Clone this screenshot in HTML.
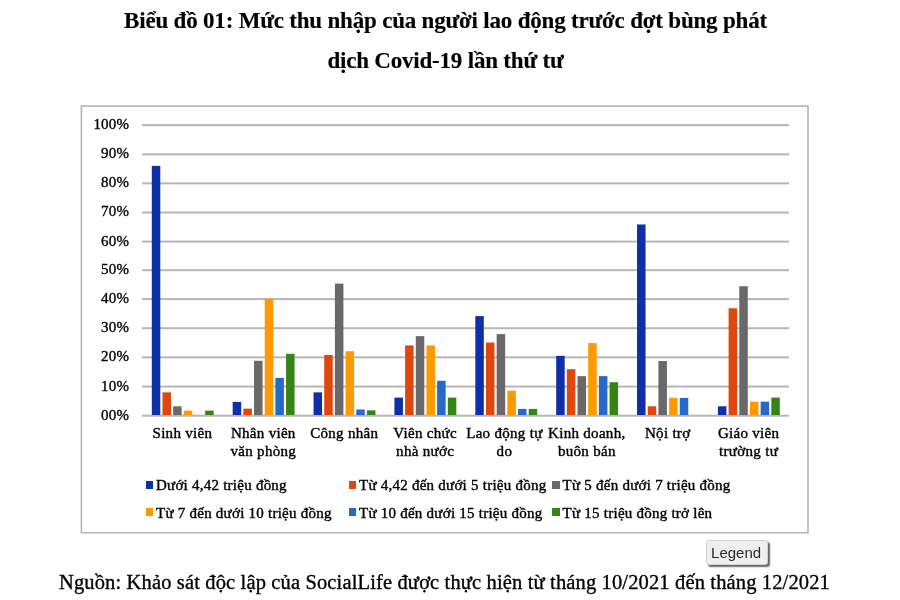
<!DOCTYPE html>
<html><head><meta charset="utf-8">
<style>
html,body{margin:0;padding:0;background:#fff;width:900px;height:600px;overflow:hidden;position:relative}
body{font-family:"Liberation Serif",serif;color:#000}
#wrap{position:absolute;left:0;top:0;width:900px;height:600px;transform:translateZ(0)}
.t{position:absolute;left:0;width:891px;text-align:center;font-weight:bold;font-size:23px;letter-spacing:-0.2px;white-space:nowrap;line-height:26px;-webkit-text-stroke:0.15px #000}
svg{position:absolute;left:0;top:0}
.yl{position:absolute;left:60px;width:69.2px;text-align:right;font-size:15px;letter-spacing:0.2px;line-height:18px;-webkit-text-stroke:0.35px #000}
.cl{position:absolute;top:423.5px;width:100px;text-align:center;font-size:15px;letter-spacing:0.3px;line-height:18px;-webkit-text-stroke:0.4px #000}
.lsq{position:absolute;width:7.5px;height:7.5px}
.lt{position:absolute;font-size:15px;letter-spacing:0.24px;-webkit-text-stroke:0.4px #000;line-height:18px;white-space:nowrap}
.src{position:absolute;left:59px;top:569.5px;font-size:20.5px;letter-spacing:0.14px;line-height:24px;-webkit-text-stroke:0.35px #000;white-space:nowrap}
.btn{position:absolute;left:706.25px;top:539.5px;width:59.25px;height:23px;background:#efefef;border:1px solid #d2d2d2;border-radius:3px;box-shadow:2px 2px 1.5px rgba(0,0,0,.6);font-family:"Liberation Sans",sans-serif;font-size:15px;line-height:23px;text-align:center;color:#2a2a2a;text-indent:-1.5px}
</style></head><body><div id="wrap">
<div class="t" style="top:8px">Biểu đồ 01: Mức thu nhập của người lao động trước đợt bùng phát</div>
<div class="t" style="top:47.6px">dịch Covid-19 lần thứ tư</div>
<svg width="900" height="600" viewBox="0 0 900 600">
<rect x="81.4" y="106.1" width="726.6" height="426.65" fill="none" stroke="#b5b5b5" stroke-width="1.6"/><rect x="142" y="414.70" width="647" height="2" fill="#b6b6b6"/><rect x="142" y="385.56" width="647" height="2" fill="#b6b6b6"/><rect x="142" y="356.36" width="647" height="2" fill="#b6b6b6"/><rect x="142" y="327.20" width="647" height="2" fill="#b6b6b6"/><rect x="142" y="298.10" width="647" height="2" fill="#b6b6b6"/><rect x="142" y="269.20" width="647" height="2" fill="#b6b6b6"/><rect x="142" y="240.60" width="647" height="2" fill="#b6b6b6"/><rect x="142" y="211.50" width="647" height="2" fill="#b6b6b6"/><rect x="142" y="182.36" width="647" height="2" fill="#b6b6b6"/><rect x="142" y="153.36" width="647" height="2" fill="#b6b6b6"/><rect x="142" y="124.15" width="647" height="2" fill="#b6b6b6"/><rect x="151.80" y="165.89" width="8.5" height="249.11" fill="#0f2fa6"/><rect x="162.48" y="392.38" width="8.5" height="22.62" fill="#de470d"/><rect x="173.16" y="406.30" width="8.5" height="8.70" fill="#696969"/><rect x="183.84" y="410.65" width="8.5" height="4.35" fill="#fe9a00"/><rect x="205.20" y="410.65" width="8.5" height="4.35" fill="#368418"/><rect x="232.68" y="401.95" width="8.5" height="13.05" fill="#0f2fa6"/><rect x="243.36" y="408.62" width="8.5" height="6.38" fill="#de470d"/><rect x="254.04" y="360.77" width="8.5" height="54.23" fill="#696969"/><rect x="264.72" y="298.71" width="8.5" height="116.29" fill="#fe9a00"/><rect x="275.39" y="377.88" width="8.5" height="37.12" fill="#2868c8"/><rect x="286.07" y="353.81" width="8.5" height="61.19" fill="#368418"/><rect x="313.55" y="392.38" width="8.5" height="22.62" fill="#0f2fa6"/><rect x="324.23" y="354.97" width="8.5" height="60.03" fill="#de470d"/><rect x="334.91" y="283.63" width="8.5" height="131.37" fill="#696969"/><rect x="345.59" y="351.20" width="8.5" height="63.80" fill="#fe9a00"/><rect x="356.27" y="409.49" width="8.5" height="5.51" fill="#2868c8"/><rect x="366.95" y="410.36" width="8.5" height="4.64" fill="#368418"/><rect x="394.43" y="397.60" width="8.5" height="17.40" fill="#0f2fa6"/><rect x="405.11" y="345.40" width="8.5" height="69.60" fill="#de470d"/><rect x="415.79" y="336.12" width="8.5" height="78.88" fill="#696969"/><rect x="426.47" y="345.40" width="8.5" height="69.60" fill="#fe9a00"/><rect x="437.14" y="380.78" width="8.5" height="34.22" fill="#2868c8"/><rect x="447.82" y="397.60" width="8.5" height="17.40" fill="#368418"/><rect x="475.30" y="316.11" width="8.5" height="98.89" fill="#0f2fa6"/><rect x="485.98" y="342.50" width="8.5" height="72.50" fill="#de470d"/><rect x="496.66" y="334.09" width="8.5" height="80.91" fill="#696969"/><rect x="507.34" y="390.64" width="8.5" height="24.36" fill="#fe9a00"/><rect x="518.02" y="408.91" width="8.5" height="6.09" fill="#2868c8"/><rect x="528.70" y="408.91" width="8.5" height="6.09" fill="#368418"/><rect x="556.17" y="355.84" width="8.5" height="59.16" fill="#0f2fa6"/><rect x="566.85" y="369.18" width="8.5" height="45.82" fill="#de470d"/><rect x="577.53" y="376.14" width="8.5" height="38.86" fill="#696969"/><rect x="588.21" y="343.08" width="8.5" height="71.92" fill="#fe9a00"/><rect x="598.89" y="376.14" width="8.5" height="38.86" fill="#2868c8"/><rect x="609.57" y="382.23" width="8.5" height="32.77" fill="#368418"/><rect x="637.05" y="224.47" width="8.5" height="190.53" fill="#0f2fa6"/><rect x="647.73" y="406.30" width="8.5" height="8.70" fill="#de470d"/><rect x="658.41" y="361.06" width="8.5" height="53.94" fill="#696969"/><rect x="669.09" y="397.89" width="8.5" height="17.11" fill="#fe9a00"/><rect x="679.77" y="397.89" width="8.5" height="17.11" fill="#2868c8"/><rect x="717.92" y="406.30" width="8.5" height="8.70" fill="#0f2fa6"/><rect x="728.60" y="308.28" width="8.5" height="106.72" fill="#de470d"/><rect x="739.28" y="286.24" width="8.5" height="128.76" fill="#696969"/><rect x="749.96" y="401.66" width="8.5" height="13.34" fill="#fe9a00"/><rect x="760.64" y="401.66" width="8.5" height="13.34" fill="#2868c8"/><rect x="771.32" y="397.60" width="8.5" height="17.40" fill="#368418"/>
</svg>
<div class="yl" style="top:405.6px">00%</div><div class="yl" style="top:376.5px">10%</div><div class="yl" style="top:347.3px">20%</div><div class="yl" style="top:318.1px">30%</div><div class="yl" style="top:289.0px">40%</div><div class="yl" style="top:260.1px">50%</div><div class="yl" style="top:231.5px">60%</div><div class="yl" style="top:202.4px">70%</div><div class="yl" style="top:173.3px">80%</div><div class="yl" style="top:144.3px">90%</div><div class="yl" style="top:115.1px">100%</div>
<div class="cl" style="left:132.4px">Sinh viên</div><div class="cl" style="left:213.3px">Nhân viên<br>văn phòng</div><div class="cl" style="left:294.2px">Công nhân</div><div class="cl" style="left:375.1px">Viên chức<br>nhà nước</div><div class="cl" style="left:454.4px">Lao động tự<br>do</div><div class="cl" style="left:536.8px">Kinh doanh,<br>buôn bán</div><div class="cl" style="left:617.7px">Nội trợ</div><div class="cl" style="left:698.6px">Giáo viên<br>trường tư</div>
<div class="lsq" style="left:145.5px;top:481px;background:#0f2fa6"></div><div class="lt" style="left:156px;top:476px">Dưới 4,42 triệu đồng</div><div class="lsq" style="left:348.5px;top:481px;background:#de470d"></div><div class="lt" style="left:359px;top:476px">Từ 4,42 đến dưới 5 triệu đồng</div><div class="lsq" style="left:552.1px;top:481px;background:#696969"></div><div class="lt" style="left:562.6px;top:476px">Từ 5 đến dưới 7 triệu đồng</div><div class="lsq" style="left:145.5px;top:508px;background:#fe9a00"></div><div class="lt" style="left:156px;top:503.5px">Từ 7 đến dưới 10 triệu đồng</div><div class="lsq" style="left:348.5px;top:508px;background:#2868c8"></div><div class="lt" style="left:359px;top:503.5px">Từ 10 đến dưới 15 triệu đồng</div><div class="lsq" style="left:552.1px;top:508px;background:#368418"></div><div class="lt" style="left:562.6px;top:503.5px">Từ 15 triệu đồng trở lên</div>
<div class="btn">Legend</div>
<div class="src">Nguồn: Khảo sát độc lập của SocialLife được thực hiện từ tháng 10/2021 đến tháng 12/2021</div>
</div></body></html>
